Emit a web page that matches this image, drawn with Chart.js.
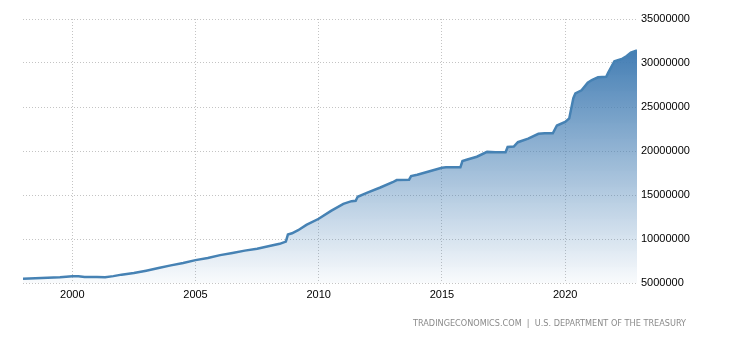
<!DOCTYPE html>
<html>
<head>
<meta charset="utf-8">
<script src="https://cdn.jsdelivr.net/npm/chart.js@4"></script>
<style>
html,body{margin:0;padding:0;background:#fff;}
#wrap{width:730px;height:340px;}
</style>
</head>
<body>
<div id="wrap"><canvas id="c" width="730" height="340"></canvas></div>
<script>
const dates = ["1998-01","1998-07","1999-01","1999-07","2000-01","2000-04","2000-07","2001-01","2001-05","2001-09",
"2002-01","2002-07","2003-01","2003-07","2004-01","2004-07","2005-01","2005-07","2006-01","2006-07",
"2007-01","2007-07","2008-01","2008-06","2008-09","2008-10","2008-12","2009-03","2009-07","2010-01",
"2010-07","2011-01","2011-05","2011-07","2011-08","2012-01","2012-07","2013-01","2013-03","2013-09",
"2013-10","2014-01","2014-07","2015-01","2015-03","2015-10","2015-11","2016-01","2016-06","2016-11",
"2017-03","2017-08","2017-09","2017-12","2018-02","2018-07","2018-12","2019-03","2019-07","2019-09",
"2020-01","2020-03","2020-05","2020-06","2020-09","2020-12","2021-02","2021-05","2021-09","2021-10",
"2022-01","2022-05","2022-07","2022-09","2022-12"];
const debt = [5480000,5530000,5600000,5640000,5760000,5780000,5690000,5680000,5660000,5780000,
5950000,6130000,6400000,6700000,7000000,7280000,7600000,7850000,8170000,8420000,
8680000,8900000,9200000,9450000,9700000,10500000,10650000,11000000,11600000,12300000,
13200000,14000000,14300000,14340000,14800000,15300000,15850000,16450000,16700000,16740000,
17150000,17300000,17700000,18100000,18150000,18150000,18850000,19000000,19350000,19900000,
19850000,19850000,20450000,20500000,21000000,21400000,21950000,22030000,22020000,22900000,
23300000,23700000,26000000,26550000,26900000,27760000,28070000,28370000,28430000,28900000,
30200000,30500000,30800000,31170000,31420000];
const xTicks = [2000,2005,2010,2015,2020];
const yTicks = [5000000,10000000,15000000,20000000,25000000,30000000,35000000];
const sourceText = "TRADINGECONOMICS.COM  |  U.S. DEPARTMENT OF THE TREASURY";

function toYear(s){const p=s.split("-");return +p[0]+(+p[1]-1)/12;}
const points = dates.map((d,i)=>({x:toYear(d),y:debt[i]}));

const sourcePlugin = {
  id:'source',
  afterDraw(chart){
    const ctx=chart.ctx;
    ctx.save();
    ctx.font="9px 'DejaVu Sans'";
    ctx.fillStyle="#8a8a8a";
    ctx.textBaseline="middle";
    const w=ctx.measureText(sourceText).width;
    const target=273;
    ctx.translate(413,324);
    ctx.scale(target/w,1);
    ctx.fillText(sourceText,0,0);
    ctx.restore();
  }
};

new Chart(document.getElementById('c'),{
  type:'line',
  data:{datasets:[{
    data:points,
    borderColor:'rgb(70,130,180)',
    borderWidth:2.5,
    pointRadius:0,
    tension:0,
    fill:'start',
    backgroundColor(ctx){
      const ch=ctx.chart, ca=ch.chartArea;
      if(!ca || !ch.scales.y) return 'rgba(70,130,180,0.5)';
      const top=ch.scales.y.getPixelForValue(Math.max(...debt));
      const g=ch.ctx.createLinearGradient(0,top,0,ca.bottom);
      g.addColorStop(0,'rgba(68,126,180,1)');
      g.addColorStop(1,'rgba(68,126,180,0.03)');
      return g;
    }
  }]},
  options:{
    responsive:false,
    animation:false,
    layout:{padding:{top:19,left:23,right:0,bottom:0}},
    plugins:{legend:{display:false},tooltip:{enabled:false}},
    scales:{
      x:{
        type:'linear',
        min:toYear(dates[0]),
        max:toYear(dates[dates.length-1]),
        afterBuildTicks(s){s.ticks=xTicks.map(v=>({value:v}));},
        afterFit(s){s.height=57;},
        grid:{color:'#c4c4c4',lineWidth:1,drawTicks:false},
        border:{display:false,dash:[1,2]},
        ticks:{color:'#000',font:{family:'Liberation Sans',size:11},padding:5,callback:v=>String(v),maxRotation:0}
      },
      y:{
        position:'right',
        min:5000000,max:35000000,
        afterBuildTicks(s){s.ticks=yTicks.map(v=>({value:v}));},
        afterFit(s){s.width=93;},
        grid:{color:'#c4c4c4',lineWidth:1,drawTicks:false},
        border:{display:false,dash:[1,2]},
        ticks:{color:'#000',font:{family:'Liberation Sans',size:11},padding:4,callback:v=>String(v)}
      }
    }
  },
  plugins:[sourcePlugin]
});
</script>
</body>
</html>
